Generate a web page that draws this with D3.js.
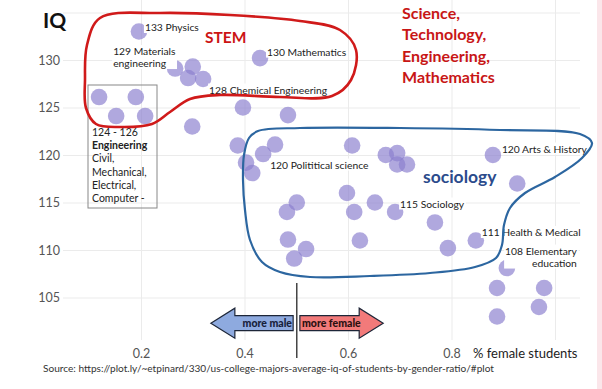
<!DOCTYPE html>
<html>
<head>
<meta charset="utf-8">
<script src="https://cdn.jsdelivr.net/npm/d3@7"></script>
<style>
  body { margin: 0; background: #fff; }
  svg { display: block; font-family: Lato, "Open Sans", sans-serif; }
</style>
</head>
<body>
<svg id="chart" width="602" height="389"></svg>
<script>
// share of female students per major, and average IQ of its students
const femaleShare = [0.196, 0.266, 0.300, 0.291, 0.320, 0.430, 0.119, 0.190, 0.152, 0.208,
  0.299, 0.397, 0.484, 0.387, 0.459, 0.436, 0.403, 0.415, 0.608, 0.673,
  0.695, 0.695, 0.714, 0.880, 0.927, 0.598, 0.652, 0.691, 0.501, 0.482,
  0.612, 0.768, 0.484, 0.519, 0.496, 0.623, 0.793, 0.847, 0.907, 0.888,
  0.979, 0.969, 0.888];
const avgIQ = [133.0, 129.1, 129.3, 128.1, 128.0, 130.2, 126.1, 126.1, 124.1, 124.1,
  123.0, 125.0, 124.2, 121.0, 121.1, 120.1, 119.2, 118.1, 121.0, 120.0,
  120.2, 119.0, 119.0, 120.0, 117.0, 116.0, 115.0, 114.0, 115.0, 114.0,
  114.0, 112.9, 111.1, 110.1, 109.1, 111.0, 110.2, 111.0, 108.1, 106.0,
  106.0, 104.0, 103.0];

// labelled majors (index into the arrays above)
const labelIndex = [0, 1, 5, 4, 15, 23, 27, 37, 38];
const labelText = [["133 Physics"], ["129 Materials", "engineering"], ["130 Mathematics"],
  ["128 Chemical Engineering"], ["120 Polititical science"], ["120 Arts & History"],
  ["115 Sociology"], ["111 Health & Medical"], ["108 Elementary", "education"]];

const xTicks = [0.2, 0.4, 0.6, 0.8, 1.0];
const yTicks = [105, 110, 115, 120, 125, 130, 135];

const svg = d3.select("#chart");
const x = d3.scaleLinear().domain([0, 1]).range([37.5, 555]);
const y = d3.scaleLinear().domain([105, 130]).range([297.5, 60]);
const plotLeft = 63, plotRight = 580, plotBottom = 340;

// right border strip
svg.append("rect").attr("x", 597).attr("y", 0).attr("width", 5).attr("height", 389).attr("fill", "#fbe6ea");

// y grid + labels
const gy = svg.append("g").attr("transform", "translate(" + plotLeft + ",0)")
  .call(d3.axisLeft(y).tickValues(yTicks).tickSize(-(plotRight - plotLeft)).tickPadding(3)
    .tickFormat(d => d === 135 ? "" : d));
gy.select(".domain").remove();
gy.selectAll("line").attr("stroke", "#ebebeb");
gy.selectAll("text").attr("font-size", 12.5).attr("fill", "#555").attr("font-family", "Lato, sans-serif");

// x grid + labels
const gx = svg.append("g").attr("transform", "translate(0," + plotBottom + ")")
  .call(d3.axisBottom(x).tickValues(xTicks).tickSize(-plotBottom).tickPadding(9)
    .tickFormat(d => d === 1 ? "" : d3.format(".1f")(d)));
gx.select(".domain").remove();
gx.selectAll("line").attr("stroke", "#ebebeb");
gx.selectAll("text").attr("font-size", 12.5).attr("fill", "#555").attr("font-family", "Lato, sans-serif");

svg.append("text").attr("x", 43).attr("y", 28).attr("font-size", 21).attr("font-weight", "bold")
  .attr("fill", "#111").text("IQ");
svg.append("text").attr("x", 473).attr("y", 358).attr("font-size", 13).attr("fill", "#222")
  .text("% female students");
svg.append("text").attr("x", 43).attr("y", 372).attr("font-size", 10.1).attr("fill", "#333")
  .text("Source:  https://plot.ly/~etpinard/330/us-college-majors-average-iq-of-students-by-gender-ratio/#plot");

// points
svg.append("g").selectAll("circle")
  .data(femaleShare)
  .enter().append("circle")
  .attr("cx", d => x(d))
  .attr("cy", (d, i) => y(avgIQ[i]))
  .attr("r", 8.3)
  .attr("fill", "#8b7fcf")
  .attr("fill-opacity", 0.68);

// point labels, with white backing like the original hover boxes
const labelOffset = [[6, -4, "start"], [-62, -17, "start"], [7, -6, "start"], [6, 11, "start"],
  [7, 11, "start"], [9, -6, "start"], [5, -8, "start"], [6, -8, "start"], [70, -17, "end"]];
labelIndex.forEach((k, j) => {
  const px = x(femaleShare[k]) + labelOffset[j][0];
  const py = y(avgIQ[k]) + labelOffset[j][1];
  const t = svg.append("text").attr("font-size", 10.3).attr("fill", "#222")
    .attr("text-anchor", labelOffset[j][2]);
  labelText[j].forEach((s, m) => {
    t.append("tspan").attr("x", px).attr("y", py + 3.5 + m * 12).text(s);
  });
  const b = t.node().getBBox();
  svg.insert("rect", () => t.node()).attr("x", b.x - 1).attr("y", b.y)
    .attr("width", b.width + 2).attr("height", b.height).attr("fill", "#fff");
});

// engineering box
svg.append("rect").attr("x", 88).attr("y", 85).attr("width", 69).attr("height", 123)
  .attr("fill", "none").attr("stroke", "#888").attr("stroke-width", 1);
const eng = svg.append("text").attr("font-size", 10.5).attr("fill", "#222");
["124 - 126", "Engineering", "Civil,", "Mechanical,", "Electrical,", "Computer -"].forEach((s, m) => {
  eng.append("tspan").attr("x", 92).attr("y", 136 + m * 13.2)
    .attr("font-weight", m === 1 ? "bold" : "normal").text(s);
});

// STEM outline
const stemPath = [[100, 18], [160, 13], [230, 15], [300, 21], [340, 30], [356, 50], [351, 80],
  [332, 96], [280, 97], [220, 95], [190, 99], [170, 112], [152, 124], [120, 127], [96, 124],
  [86, 108], [85, 80], [87, 45]];
svg.append("path").attr("d", d3.line().curve(d3.curveCatmullRomClosed)(stemPath))
  .attr("fill", "none").attr("stroke", "#d01a1a").attr("stroke-width", 2.6);

// sociology outline
const socPath = [[258, 131], [300, 128], [400, 128], [500, 130], [580, 134], [592, 143], [582, 158],
  [555, 177], [525, 193], [510, 208], [504, 225], [502, 245], [496, 258], [475, 267], [430, 273],
  [370, 276], [310, 277], [280, 272], [262, 262], [250, 240], [245, 210], [243, 180], [244, 155],
  [249, 138]];
svg.append("path").attr("d", d3.line().curve(d3.curveCatmullRomClosed)(socPath))
  .attr("fill", "none").attr("stroke", "#2c66a0").attr("stroke-width", 2.2);

svg.append("text").attr("x", 205).attr("y", 43).attr("font-size", 15.5).attr("font-weight", "bold")
  .attr("fill", "#cc1414").text("STEM");
const stemNote = svg.append("text").attr("font-size", 16).attr("font-weight", "bold").attr("fill", "#c81616");
["Science,", "Technology,", "Engineering,", "Mathematics"].forEach((s, m) => {
  stemNote.append("tspan").attr("x", 402).attr("y", 19 + m * 21.3).text(s);
});
svg.append("text").attr("x", 423).attr("y", 183).attr("font-size", 17.5).attr("font-weight", "bold")
  .attr("fill", "#2b4b8c").text("sociology");

// gender direction arrows
const ay = y(102.3);
svg.append("line").attr("x1", x(0.501)).attr("x2", x(0.501)).attr("y1", 283).attr("y2", 358)
  .attr("stroke", "#444").attr("stroke-width", 1.5);
function arrow(x0, x1, fill) {
  const dir = x1 > x0 ? 1 : -1, head = 24 * dir;
  const pts = [[x0, ay - 7.5], [x1 - head, ay - 7.5], [x1 - head, ay - 15], [x1, ay],
    [x1 - head, ay + 15], [x1 - head, ay + 7.5], [x0, ay + 7.5]];
  svg.append("path").attr("d", d3.line()(pts) + "Z").attr("fill", fill)
    .attr("stroke", "#1d2638").attr("stroke-width", 1.2);
}
arrow(x(0.494), x(0.335), "#8eaadf");
arrow(x(0.507), x(0.668), "#f27a7a");
svg.append("text").attr("x", 292).attr("y", ay + 3.6).attr("text-anchor", "end").attr("font-size", 10.5)
  .attr("font-weight", 900).attr("fill", "#17213a").text("more male");
svg.append("text").attr("x", 302).attr("y", ay + 3.6).attr("font-size", 10.5)
  .attr("font-weight", 900).attr("fill", "#2a1010").text("more female");
</script>
</body>
</html>
